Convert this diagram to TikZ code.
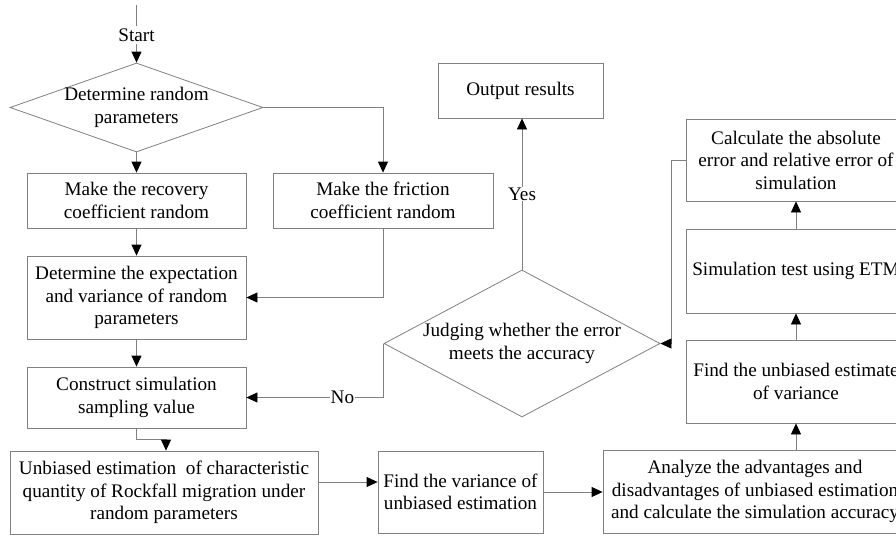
\documentclass[tikz,border=0pt]{standalone}
\usepackage{fontspec}
\setmainfont{Liberation Serif}
\usetikzlibrary{shapes.geometric,arrows.meta}

\begin{document}
\begin{tikzpicture}[x=1pt,y=-1pt,
    font=\fontsize{19.2}{22.5}\selectfont,
    caja/.style={draw=gray,line width=0.8pt,align=center,inner sep=0pt},
    rombo/.style={draw=gray,line width=0.8pt,diamond,inner sep=0pt},
    linea/.style={draw=gray,line width=0.8pt},
    flecha/.style={linea,-{Triangle[length=11pt,width=10pt,color=black]}}]

    \path[use as bounding box,clip] (0,0) rectangle (896,536);

    %Inicio
    \coordinate (tope) at (136.5,5);
    \node[inner sep=2pt] (start) at (136.5,35) {Start};
    \node[rombo,minimum width=253pt,minimum height=89pt] (d1) at (136.5,107.5)
        {\makebox[0pt]{\begin{tabular}{@{}c@{}}Determine random\\parameters\end{tabular}}};

    %Columna izquierda
    \node[caja,minimum width=219pt,minimum height=55pt] (recov) at (136.5,200.5) {Make the recovery\\coefficient random};
    \node[caja,minimum width=220pt,minimum height=55pt] (fric) at (383,200.5) {Make the friction\\coefficient random};
    \node[caja,minimum width=219pt,minimum height=83pt] (expect) at (136.5,297.5) {Determine the expectation\\and variance of random\\parameters};
    \node[caja,minimum width=219pt,minimum height=61pt] (constr) at (136.5,397.5) {Construct simulation\\sampling value};

    %Fila inferior
    \node[caja,minimum width=308pt,minimum height=83pt] (unbias) at (164,492.5) {Unbiased estimation\ \ of characteristic\\quantity of Rockfall migration under\\random parameters};
    \node[caja,minimum width=165pt,minimum height=82pt] (findvar) at (460.5,492) {Find the variance of\\unbiased estimation};
    \node[caja,minimum width=304pt,minimum height=83pt] (analyze) at (755,491.5) {Analyze the advantages and\\disadvantages of unbiased estimation\\and calculate the simulation accuracy};

    %Columna derecha
    \node[caja,minimum width=220pt,minimum height=83pt] (estvar) at (796,381.5) {Find the unbiased estimate\\of variance};
    \node[caja,minimum width=220pt,minimum height=84pt] (etm) at (796,271) {Simulation test using ETM};
    \node[caja,minimum width=220pt,minimum height=82pt] (calc) at (796,160) {Calculate the absolute\\error and relative error of\\simulation};

    %Centro
    \node[rombo,minimum width=276pt,minimum height=147pt] (d2) at (522,343.5)
        {\makebox[0pt]{\begin{tabular}{@{}c@{}}Judging whether the error\\meets the accuracy\end{tabular}}};
    \node[caja,minimum width=165pt,minimum height=55pt] (output) at (520.5,90.5) {Output results};

    %Conexiones
    \draw[linea] (tope) -- (start);
    \draw[flecha] (start) -- (d1.north);
    \draw[flecha] (d1.south) -- (recov.north);
    \draw[flecha] (d1.east) -| (fric.north);
    \draw[flecha] (recov) -- (expect);
    \draw[flecha] (fric.south) |- (expect.east);
    \draw[flecha] (expect) -- (constr);
    \draw[flecha] (constr.south) -- ++(0,11) -| ([xshift=2pt]unbias.north);
    \coordinate (ue) at ([yshift=10.5pt]unbias.east);
    \draw[flecha] (ue) -- (ue -| findvar.west);
    \draw[flecha] (findvar.east) -- (findvar.east -| analyze.west);
    \draw[flecha] (estvar.south |- analyze.north) -- (estvar.south);
    \draw[flecha] (estvar) -- (etm);
    \draw[flecha] (etm) -- (calc);
    \draw[flecha] (calc.west) -- ++(-14,0) |- (d2.east);
    \draw[flecha] (d2.north) -- (d2.north |- output.south) node[midway,fill=white,inner sep=1pt] {Yes};
    \draw[flecha] (d2.west) |- (constr.east) node[pos=0.65,fill=white,inner sep=1pt] {No};

\end{tikzpicture}
\end{document}
